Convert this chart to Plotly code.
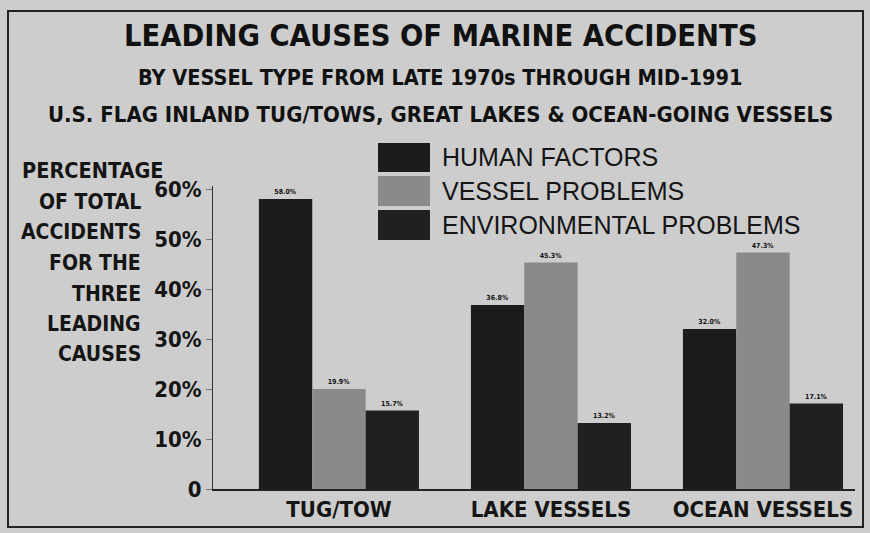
import plotly.graph_objects as go

categories = ["TUG/TOW", "LAKE VESSELS", "OCEAN VESSELS"]
series_names = ["HUMAN FACTORS", "VESSEL PROBLEMS", "ENVIRONMENTAL PROBLEMS"]
human = [58.0, 36.8, 32.0]
vessel = [20.0, 45.3, 47.3]
environmental = [15.7, 13.2, 17.1]
human_labels = ["58.0%", "36.8%", "32.0%"]
vessel_labels = ["19.9%", "45.3%", "47.3%"]
env_labels = ["15.7%", "13.2%", "17.1%"]
y_tickvals = [0, 10, 20, 30, 40, 50, 60]
y_ticktext = ["0", "10%", "20%", "30%", "40%", "50%", "60%"]
y_title_lines = ["PERCENTAGE", "OF TOTAL", "ACCIDENTS", "FOR THE", "THREE", "LEADING", "CAUSES"]
title_lines = ["LEADING CAUSES OF MARINE ACCIDENTS",
               "BY VESSEL TYPE FROM LATE 1970s THROUGH MID-1991",
               "U.S. FLAG INLAND TUG/TOWS, GREAT LAKES & OCEAN-GOING VESSELS"]

colors = ["#1c1c1c", "#8a8a8a", "#202020"]
W, H = 870, 533
L, R, T, B = 213, 15, 186, 44
PW, PH = W - L - R, H - T - B

def px(x):
    return (x - L) / PW

def py(y):
    return (H - B - y) / PH

NARROW = "DejaVu Sans Condensed, Liberation Sans Narrow, Arial Narrow, sans-serif"

def nfont(size, color="#151515"):
    return dict(size=size, family=NARROW, weight="bold", color=color)

fig = go.Figure()
for name, vals, labs, col in zip(series_names, [human, vessel, environmental],
                                 [human_labels, vessel_labels, env_labels], colors):
    fig.add_trace(go.Bar(x=categories, y=vals, name=name, marker=dict(color=col, line=dict(width=0)),
                         text=labs, textposition="outside", cliponaxis=False,
                         textfont=dict(size=7, color="#111", family=NARROW, weight="bold")))

fig.update_layout(
    width=W, height=H, margin=dict(l=L, r=R, t=T, b=B),
    paper_bgcolor="#cdcdcd", plot_bgcolor="#cdcdcd",
    barmode="group", bargap=0.245, bargroupgap=0,
    showlegend=False,
    font=dict(family=NARROW, color="#151515"),
)
fig.update_xaxes(range=[-0.594, 2.434], showline=True, linecolor="#222", linewidth=1.5,
                 ticks="", tickfont=nfont(22), showgrid=False)
fig.update_yaxes(range=[0, 60.6], tickvals=y_tickvals, ticktext=y_ticktext, showline=True,
                 linecolor="#333", linewidth=1, ticks="outside", ticklen=6, tickcolor="#777",
                 tickfont=nfont(22), showgrid=False, zeroline=False)

# titles
for txt, yc, sz in zip(title_lines, [35, 77, 115], [30.5, 21.5, 22]):
    fig.add_annotation(text=txt, xref="paper", yref="paper", x=px(440), y=py(yc),
                       xanchor="center", yanchor="middle", showarrow=False,
                       font=nfont(sz, "#111"))

# y-axis title
for i, (txt, yc) in enumerate(zip(y_title_lines, [170, 202, 232, 263, 294, 324, 354])):
    xr = 165 if i == 0 else 143
    fig.add_annotation(text=txt, xref="paper", yref="paper", x=px(xr), y=py(yc),
                       xanchor="right", yanchor="middle", showarrow=False,
                       font=nfont(21.5 if i == 0 else 21))

# legend
for name, col, (y0, y1) in zip(series_names, colors, [(143, 172), (176, 206), (210, 240)]):
    fig.add_shape(type="rect", xref="paper", yref="paper", x0=px(378), x1=px(430),
                  y0=py(y1), y1=py(y0), fillcolor=col, line=dict(width=0))
    fig.add_annotation(text=name, xref="paper", yref="paper", x=px(440), y=py((y0 + y1) / 2),
                       xanchor="left", yanchor="middle", showarrow=False,
                       font=dict(size=25, family="Liberation Sans", color="#151515"))

# frame
fig.add_shape(type="rect", xref="paper", yref="paper", x0=px(8), x1=px(863),
              y0=py(527), y1=py(11), line=dict(color="#222", width=2), fillcolor="rgba(0,0,0,0)")

fig.write_html("out.html")
